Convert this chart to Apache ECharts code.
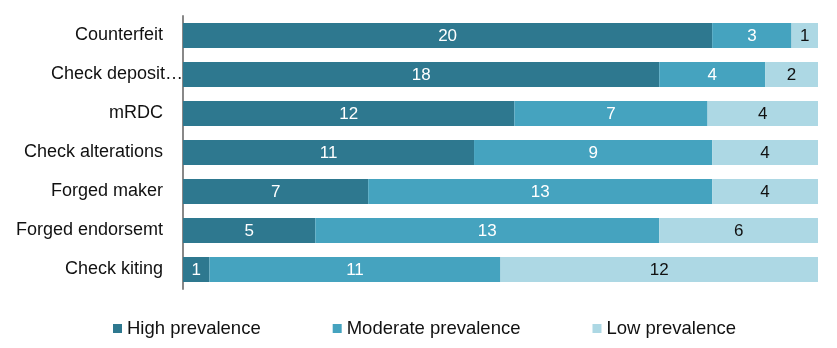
<!DOCTYPE html>
<html><head><meta charset="utf-8">
<script src="https://cdn.jsdelivr.net/npm/echarts@6/dist/echarts.min.js"></script>
<style>html,body{margin:0;padding:0;background:#fff}#c{width:837px;height:348px}</style>
</head><body><div id="c"></div>
<script>
const categories = ["Counterfeit","Check deposit…","mRDC","Check alterations","Forged maker","Forged endorsemt","Check kiting"];
const high = [20,18,12,11,7,5,1];
const moderate = [3,4,7,9,13,13,11];
const low = [1,2,4,4,4,6,12];
const seriesNames = ["High prevalence","Moderate prevalence","Low prevalence"];
const colors = ["#2E788F","#45A3BF","#ADD8E4"];
const labelColors = ["#fff","#fff","#111"];
const font = "Liberation Sans, Arial, sans-serif";
const totals = categories.map((_, i) => high[i] + moderate[i] + low[i]);
const chart = echarts.init(document.getElementById('c'));
const mk = (i, data) => ({
  name: seriesNames[i], type: 'bar', stack: 'a',
  data: data.map((v, j) => ({value: v / totals[j] * 100, raw: v})),
  barCategoryGap: '36%',
  itemStyle: {color: colors[i]},
  label: {show: true, position: 'inside', color: labelColors[i], fontSize: 17, fontFamily: font,
    offset: [0, 1], formatter: p => String(p.data.raw)},
  emphasis: {disabled: true}
});
chart.setOption({
  animation: false,
  grid: {left: 183, right: 19, top: 16, bottom: 59},
  xAxis: {type: 'value', min: 0, max: 100, show: false},
  yAxis: {type: 'category', data: categories, inverse: true,
    axisLine: {lineStyle: {color: '#888', width: 2}},
    axisTick: {show: false},
    axisLabel: {color: '#111', fontSize: 18, fontFamily: font, margin: 0,
      formatter: v => v.endsWith('…') ? '{o|' + v + '}' : '{n|' + v + '}',
      rich: {
        n: {fontSize: 18, fontFamily: font, color: '#111', padding: [0, 20, 0, 0]},
        o: {fontSize: 18, fontFamily: font, color: '#111', padding: [0, 0, 0, 0]}
      }}},
  legend: {top: 314, left: 108, itemWidth: 9, itemHeight: 9, itemGap: 72, icon: 'rect',
    textStyle: {fontSize: 18.5, color: '#111', fontFamily: font}},
  series: [mk(0, high), mk(1, moderate), mk(2, low)]
});
</script></body></html>
